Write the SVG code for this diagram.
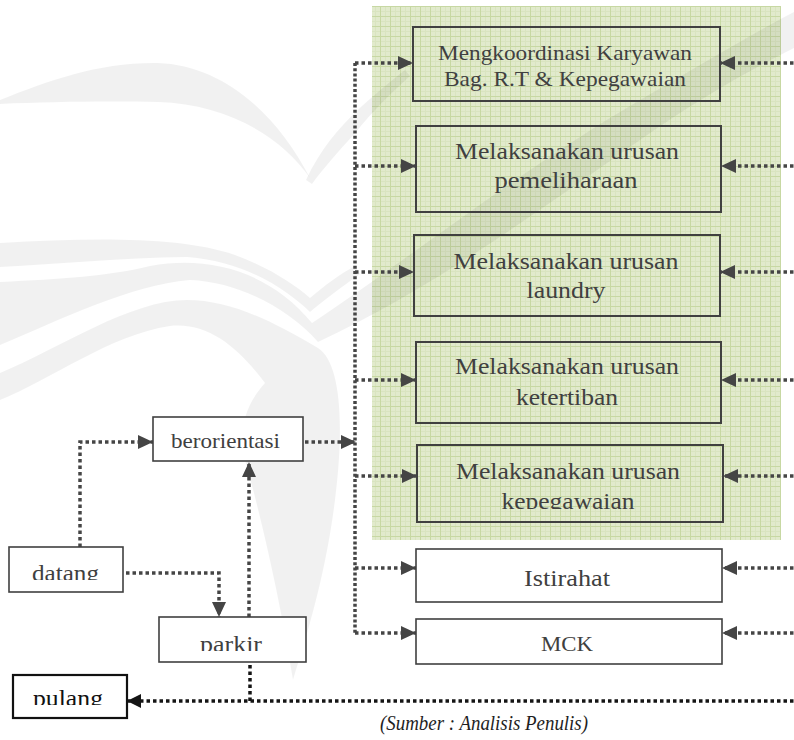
<svg xmlns="http://www.w3.org/2000/svg" width="794" height="740" viewBox="0 0 794 740">
  <defs>
    <style>
      .lbl { font-family: "Liberation Serif", "Times New Roman", serif; fill: #404040; text-anchor: middle; }
      .box { fill: none; stroke: #404040; stroke-width: 2; }
      .wbox { fill: #ffffff; stroke: #404040; stroke-width: 1.6; }
      .dot { fill: none; stroke: #454545; stroke-width: 3.5; stroke-dasharray: 3.5 3; }
      .dotv { fill: none; stroke: #454545; stroke-width: 3.5; stroke-dasharray: 3 2.2; }
      .dotk { fill: none; stroke: #151515; stroke-width: 3.5; stroke-dasharray: 3.5 3; }
      .wm { fill: #000000; opacity: 0.055; }
    </style>
    <pattern id="grid" patternUnits="userSpaceOnUse" x="0" y="6" width="10" height="10">
      <rect width="10" height="10" fill="#e1eacc"/>
      <path d="M0,5.5 H10 M5.5,0 V10" stroke="#d9e4c0" stroke-width="1"/>
      <path d="M0,0.5 H10 M0.5,0 V10" stroke="#c7d8a3" stroke-width="1"/>
    </pattern>
    <marker id="ah" markerUnits="userSpaceOnUse" markerWidth="15" markerHeight="14" refX="15" refY="7" orient="auto">
      <path d="M0,0 L15,7 L0,14 Z" fill="#454545"/>
    </marker>
    <marker id="ahk" markerUnits="userSpaceOnUse" markerWidth="14" markerHeight="14" refX="14" refY="7" orient="auto">
      <path d="M0,0 L14,7 L0,14 Z" fill="#151515"/>
    </marker>
    <clipPath id="clipDatang"><rect x="9" y="547" width="114" height="33"/></clipPath>
    <clipPath id="clipParkir"><rect x="159" y="617" width="147" height="34"/></clipPath>
    <clipPath id="clipPulang"><rect x="13" y="675" width="114" height="30"/></clipPath>
    <clipPath id="clipKepeg"><rect x="417" y="445" width="306" height="64"/></clipPath>
  </defs>

  <rect width="794" height="740" fill="#ffffff"/>

  <!-- tinted work area with grid -->
  <rect id="panel" x="372" y="6" width="409" height="534" fill="url(#grid)"/>

  <!-- faint background emblem -->
  <g id="emblem">
    <path class="wm" d="M0,100 C50,80 100,62 158,63 C220,65 275,110 310,178 C280,135 225,104 158,102 C100,101 50,102 0,104 Z"/>
    <path class="wm" d="M306,180 C320,150 338,128 362,106 C378,92 392,80 405,70 L410,76 C392,92 372,112 356,132 C338,152 322,170 312,184 Z"/>
    <path class="wm" d="M0,243 C90,238 180,236 235,255 C270,268 295,285 310,298 C325,285 340,274 355,266 L360,274 C340,288 322,302 310,312 C290,293 250,262 187,257 C120,258 60,264 0,267 Z"/>
    <path class="wm" d="M0,282 C60,279 110,276 150,266 C210,255 270,272 312,323 C400,265 520,170 640,100 C700,65 750,35 794,12 L794,48 C740,75 690,105 640,140 C540,210 430,290 318,342 C290,310 240,282 190,280 C130,285 60,320 0,345 Z"/>
    <path class="wm" d="M0,373 C60,348 130,300 187,300 C230,300 270,320 318,348 C340,362 345,420 335,500 C325,580 305,640 293,680 C280,600 262,520 245,460 C238,430 245,405 265,383 C240,350 210,322 170,326 C110,335 50,380 0,400 Z"/>
  </g>

  <!-- connectors -->
  <g id="connectors">
    <path class="dotv" d="M355,63 V633"/>
    <path class="dot" d="M355,63 H413" marker-end="url(#ah)"/>
    <path class="dot" d="M355,166 H416" marker-end="url(#ah)"/>
    <path class="dot" d="M355,272 H414" marker-end="url(#ah)"/>
    <path class="dot" d="M355,380 H416" marker-end="url(#ah)"/>
    <path class="dot" d="M355,476 H417" marker-end="url(#ah)"/>
    <path class="dot" d="M355,568 H416" marker-end="url(#ah)"/>
    <path class="dot" d="M355,633 H416" marker-end="url(#ah)"/>

    <path class="dot" d="M800,63 H720" marker-end="url(#ah)"/>
    <path class="dot" d="M800,166 H721" marker-end="url(#ah)"/>
    <path class="dot" d="M800,272 H720" marker-end="url(#ah)"/>
    <path class="dot" d="M800,380 H721" marker-end="url(#ah)"/>
    <path class="dot" d="M800,476 H723" marker-end="url(#ah)"/>
    <path class="dot" d="M800,568 H722" marker-end="url(#ah)"/>
    <path class="dot" d="M800,633 H722" marker-end="url(#ah)"/>

    <path class="dot" d="M80,547 V442 H153" marker-end="url(#ah)"/>
    <path class="dot" d="M126,573 H219 V617" marker-end="url(#ah)"/>
    <path class="dot" d="M249,617 V462" marker-end="url(#ah)"/>
    <path class="dot" d="M305,442 H356" marker-end="url(#ah)"/>

    <path class="dotk" d="M250,665 V701"/>
    <path class="dotk" d="M800,701 H127" marker-end="url(#ahk)"/>
  </g>

  <!-- task boxes -->
  <g id="node-koordinasi">
    <rect class="box" x="413" y="27" width="307" height="74"/>
    <text class="lbl" x="565" y="60" font-size="22" textLength="254" lengthAdjust="spacingAndGlyphs">Mengkoordinasi Karyawan</text>
    <text class="lbl" x="565" y="86" font-size="22" textLength="242" lengthAdjust="spacingAndGlyphs">Bag. R.T &amp; Kepegawaian</text>
  </g>
  <g id="node-pemeliharaan">
    <rect class="box" x="416" y="126" width="305" height="86"/>
    <text class="lbl" x="567" y="159" font-size="24" textLength="224" lengthAdjust="spacingAndGlyphs">Melaksanakan urusan</text>
    <text class="lbl" x="566" y="188" font-size="24" textLength="143" lengthAdjust="spacingAndGlyphs">pemeliharaan</text>
  </g>
  <g id="node-laundry">
    <rect class="box" x="414" y="235" width="306" height="81"/>
    <text class="lbl" x="566" y="269" font-size="24" textLength="225" lengthAdjust="spacingAndGlyphs">Melaksanakan urusan</text>
    <text class="lbl" x="566" y="298" font-size="24" textLength="79" lengthAdjust="spacingAndGlyphs">laundry</text>
  </g>
  <g id="node-ketertiban">
    <rect class="box" x="416" y="342" width="305" height="81"/>
    <text class="lbl" x="567" y="374" font-size="24" textLength="224" lengthAdjust="spacingAndGlyphs">Melaksanakan urusan</text>
    <text class="lbl" x="567" y="405" font-size="24" textLength="102" lengthAdjust="spacingAndGlyphs">ketertiban</text>
  </g>
  <g id="node-kepegawaian">
    <rect class="box" x="417" y="445" width="306" height="77"/>
    <text class="lbl" x="568" y="479" font-size="24" textLength="224" lengthAdjust="spacingAndGlyphs">Melaksanakan urusan</text>
    <text class="lbl" x="568" y="509" font-size="24" textLength="133" lengthAdjust="spacingAndGlyphs" clip-path="url(#clipKepeg)">kepegawaian</text>
  </g>
  <g id="node-istirahat">
    <rect class="wbox" x="416" y="549" width="306" height="53" stroke-width="2"/>
    <text class="lbl" x="567" y="586" font-size="24" textLength="86" lengthAdjust="spacingAndGlyphs">Istirahat</text>
  </g>
  <g id="node-mck">
    <rect class="wbox" x="416" y="619" width="306" height="45" stroke-width="2"/>
    <text class="lbl" x="567" y="651" font-size="21" textLength="52" lengthAdjust="spacingAndGlyphs">MCK</text>
  </g>

  <!-- flow boxes -->
  <g id="node-berorientasi">
    <rect class="wbox" x="153" y="417" width="150" height="44"/>
    <text class="lbl" x="225.5" y="448" font-size="22" textLength="109" lengthAdjust="spacingAndGlyphs">berorientasi</text>
  </g>
  <g id="node-datang">
    <rect class="wbox" x="9" y="547" width="114" height="45"/>
    <text class="lbl" x="65.5" y="581" font-size="23" textLength="67" lengthAdjust="spacingAndGlyphs" clip-path="url(#clipDatang)">datang</text>
  </g>
  <g id="node-parkir">
    <rect class="wbox" x="159" y="617" width="147" height="45"/>
    <text class="lbl" x="231" y="652" font-size="23" textLength="62" lengthAdjust="spacingAndGlyphs" clip-path="url(#clipParkir)">parkir</text>
  </g>
  <g id="node-pulang">
    <rect x="13" y="675" width="114" height="43" fill="#ffffff" stroke="#111111" stroke-width="2.2"/>
    <text class="lbl" x="68" y="706" font-size="23" style="fill:#111111" textLength="70" lengthAdjust="spacingAndGlyphs" clip-path="url(#clipPulang)">pulang</text>
  </g>

  <text x="484" y="730" font-family="'Liberation Serif', 'Times New Roman', serif" font-style="italic" font-size="20" fill="#1e1e1e" text-anchor="middle" textLength="208" lengthAdjust="spacingAndGlyphs">(Sumber : Analisis Penulis)</text>
</svg>
